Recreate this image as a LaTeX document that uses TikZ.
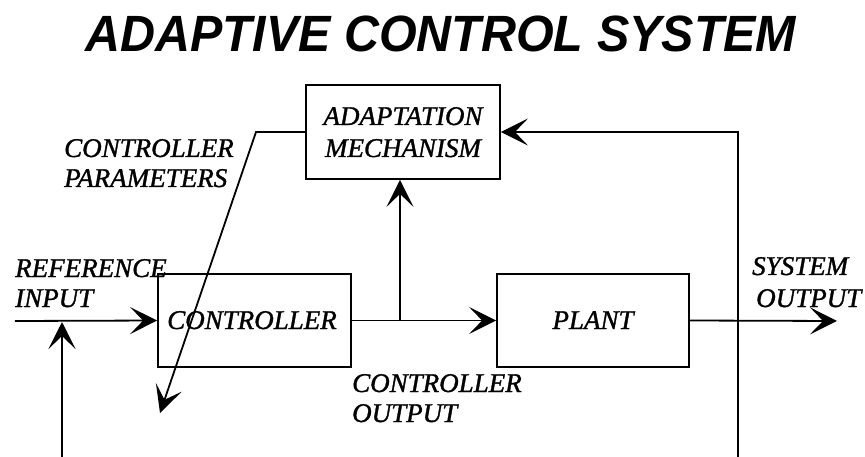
\documentclass[tikz,border=0pt]{standalone}
\usepackage{fontspec}
\setmainfont{Liberation Serif}[ItalicFeatures={FakeBold=1.2}]
\newfontfamily\titlefont{Liberation Sans}
\usetikzlibrary{arrows.meta}
\begin{document}
\begin{tikzpicture}[x=1pt,y=-1pt,
  lab/.style={font=\fontsize{27}{30}\selectfont\itshape, inner sep=0pt, align=left},
  blk/.style={draw, line width=1.8pt, inner sep=0pt},
  conn/.style={line width=1.8pt, -{Stealth[length=27pt,width=27pt,inset=13pt,line width=3pt]}}]
\useasboundingbox (0,0) rectangle (865,457);
\node[font=\titlefont\fontsize{51}{56}\selectfont\bfseries\itshape, anchor=base, xscale=0.95, inner sep=0pt] (title) at (441,52) {ADAPTIVE CONTROL SYSTEM};
\node[blk, minimum width=194pt, minimum height=94pt] (adapt) at (403,132) {};
\node[blk, minimum width=193pt, minimum height=93pt] (ctrl) at (254.5,320.5) {};
\node[blk, minimum width=192pt, minimum height=93pt] (plant) at (593,320.5) {};
\node[lab, anchor=base] (adapt1) at (403,125) {ADAPTATION};
\node[lab, anchor=base] (adapt2) at (403,157) {MECHANISM};
\node[lab, anchor=base] (ctrlt) at (252,329) {CONTROLLER};
\node[lab, anchor=base] (plantt) at (593,329) {PLANT};
\node[lab, anchor=base west] (cp1) at (64,157) {CONTROLLER};
\node[lab, anchor=base west] (cp2) at (64,187) {PARAMETERS};
\node[lab, anchor=base west] (ri1) at (15,277) {REFERENCE};
\node[lab, anchor=base west] (ri2) at (15,307) {INPUT};
\node[lab, anchor=base west] (co1) at (352,392) {CONTROLLER};
\node[lab, anchor=base west] (co2) at (352,422) {OUTPUT};
\node[lab, anchor=base west] (so1) at (752,275) {SYSTEM};
\node[lab, anchor=base west] (so2) at (756,307) {OUTPUT};
\coordinate (inL) at (15,321);
\coordinate (fbL) at (62,457);
\coordinate (fbLt) at (62,322);
\coordinate (br) at (400,321);
\coordinate (outR) at (837,321);
\coordinate (fbR) at (738,457);
\coordinate (fbRt) at (738,132);
\coordinate (cpk) at (256,132);
\coordinate (cpt) at (160,413);
\draw[conn] (inL) -- (ctrl.west);
\draw[conn] (fbL) -- (fbLt);
\draw[conn] (ctrl.east) -- (plant.west);
\draw[conn] (br) -- (adapt.south -| br);
\draw[conn] (plant.east) -- (outR);
\draw[conn] (fbR) -- (fbRt) -- (adapt.east |- fbRt);
\draw[conn] (adapt.west |- cpk) -- (cpk) -- (cpt);
\end{tikzpicture}
\end{document}
